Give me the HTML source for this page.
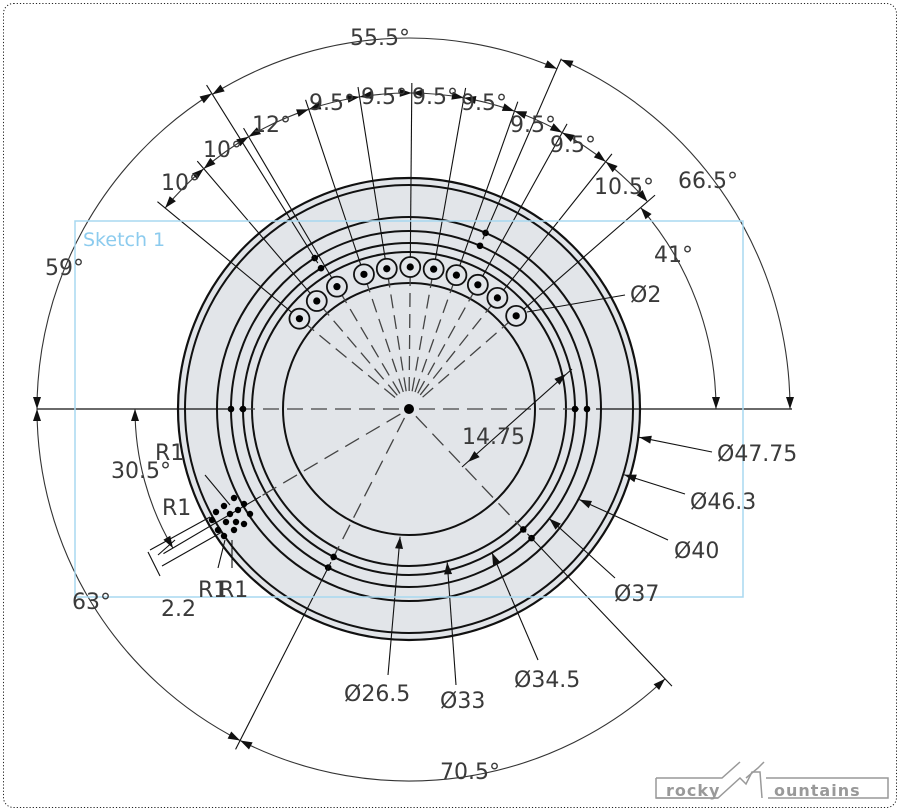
<!DOCTYPE html>
<html><head><meta charset="utf-8">
<style>
html,body{margin:0;padding:0;background:#fff;}
svg{display:block;}
text{font-family:"DejaVu Sans","Liberation Sans",sans-serif;fill:#3a3a3a;font-size:22px;}
</style></head>
<body>
<svg id="s" width="900" height="811" viewBox="0 0 900 811" xmlns="http://www.w3.org/2000/svg">
<rect x="3.5" y="3.5" width="893" height="804" rx="10" fill="none" stroke="#222" stroke-width="1" stroke-dasharray="1.2 2"/>
<circle cx="409" cy="409" r="231" fill="#e2e5e9"/>
<g id="g" stroke="#111" fill="none"></g>
<rect x="75" y="221" width="668" height="376" fill="none" stroke="#a8d8f0" stroke-width="1.5"/>
<text x="83" y="246" style="fill:#8ccbee;font-size:19px">Sketch 1</text>
<text x="350" y="45">55.5°</text>
<text x="678" y="188">66.5°</text>
<text x="654" y="262">41°</text>
<text x="45" y="275">59°</text>
<text x="72" y="609">63°</text>
<text x="440" y="779">70.5°</text>
<text x="111" y="478">30.5°</text>
<text x="155" y="460">R1</text>
<text x="162" y="515">R1</text>
<text x="198" y="597">R1</text>
<text x="219" y="597">R1</text>
<text x="161" y="616">2.2</text>
<text x="630" y="302">Ø2</text>
<text x="717" y="461">Ø47.75</text>
<text x="690" y="509">Ø46.3</text>
<text x="674" y="558">Ø40</text>
<text x="614" y="601">Ø37</text>
<text x="514" y="687">Ø34.5</text>
<text x="440" y="708">Ø33</text>
<text x="344" y="701">Ø26.5</text>
<text x="462" y="444">14.75</text>
<text x="594" y="194">10.5°</text>
<text x="550" y="152">9.5°</text>
<text x="510" y="132">9.5°</text>
<text x="461" y="110">9.5°</text>
<text x="412" y="104">9.5°</text>
<text x="361" y="104">9.5°</text>
<text x="309" y="110">9.5°</text>
<text x="252" y="132">12°</text>
<text x="203" y="157">10°</text>
<text x="161" y="190">10°</text>
<g transform="translate(656,762)">
<path d="M0 16 H66 L84 0 M90 16 L102 6 L108 0 M110 16 H232 V36 H116 L112 36 M-0 16 V36 H62" fill="none" stroke="#999" stroke-width="1.5"/>
<path d="M0 36 H62 L84 16 L90 22 L96 10 L104 10 L106 36" fill="none" stroke="#999" stroke-width="1.5"/>
<text x="10" y="34" style="fill:#999;font-size:16px;font-weight:bold;letter-spacing:1px">rocky</text>
<text x="118" y="34" style="fill:#999;font-size:16px;font-weight:bold;letter-spacing:1px">ountains</text>
</g>
</svg>
<script>
var g=document.getElementById('g'),NS='http://www.w3.org/2000/svg',C=409;
function el(t,a){var e=document.createElementNS(NS,t);for(var k in a)e.setAttribute(k,a[k]);g.appendChild(e);return e;}
function P(r,a){a*=Math.PI/180;return [C+r*Math.cos(a),C-r*Math.sin(a)];}
function line(p,q,w,dash){var o={x1:p[0],y1:p[1],x2:q[0],y2:q[1],'stroke-width':w||1.2};if(dash)o['stroke-dasharray']=dash;if(dash)o.stroke='#444';el('line',o);}
function tri(x,y,dx,dy){var L=12,W=4,bx=x-dx*L,by=y-dy*L;el('polygon',{points:x+','+y+' '+(bx-dy*W)+','+(by+dx*W)+' '+(bx+dy*W)+','+(by-dx*W),fill:'#111',stroke:'none'});}
function arc(r,a1,a2,arr){var p=P(r,a1),q=P(r,a2),lg=(a2-a1)>180?1:0;
 el('path',{d:'M'+p[0]+' '+p[1]+' A'+r+' '+r+' 0 '+lg+' 0 '+q[0]+' '+q[1],'stroke-width':1.1,stroke:'#333'});
 if(arr!==false){var b=a1*Math.PI/180,c=a2*Math.PI/180;tri(p[0],p[1],Math.sin(b),Math.cos(b));tri(q[0],q[1],-Math.sin(c),-Math.cos(c));}}
function dot(p,r){el('circle',{cx:p[0],cy:p[1],r:r||3.5,fill:'#000',stroke:'none'});}
[[231,2.2],[224,2],[192,2],[178,2],[166,2],[157,2],[126,2]].forEach(function(c){el('circle',{cx:C,cy:C,r:c[0],'stroke-width':c[1]});});
var H=[41,51.5,61,70.5,80,89.5,99,108.5,120.5,130.5,140.5];
H.forEach(function(a){
 line(P(18,a),P(132,a),1.3,'14 7');
 line(P(152,a),P(326,a),1.1);
 var p=P(142,a);el('circle',{cx:p[0],cy:p[1],r:10,'stroke-width':1.8,fill:'#e2e5e9'});dot(p,3.6);
});
for(var i=0;i<H.length-1;i++)arc(316,H[i],H[i+1]);
[0,180,210.5,243,313.5].forEach(function(a){line(P(10,a),P(a==0||a==180?176:170,a),1.3,'16 8');});
dot([C,C],5);
[[66.5,192],[66.5,178],[122,178],[122,166],[180,178],[180,166],[0,166],[0,178],[243,178],[243,166],[313.5,166],[313.5,178]].forEach(function(d){dot(P(d[1],d[0]),3.3);});
line(P(185,66.5),P(382,66.5),1.1);
line(P(172,122),P(382,122),1.1);
arc(371,66.5,122);
line([596,409],[792,409],1.2);
arc(381,0,66.5);
arc(307,0,41);
line([37,409],[231,409],1.2);
arc(372,122,180);
arc(274,180,210.5);
line(P(172,210.5),P(285,210.5),1.1);
arc(372,180,243);
line(P(172,243),P(382,243),1.1);
arc(372,243,313.5);
line(P(172,313.5),P(382,313.5),1.1);
line([462,467],[572,369],1.1);tri(566,374,0.75,-0.66);tri(468,462,-0.75,0.66);
function lead(a,r,tx,ty){var p=P(r,a);line([tx,ty],p,1.1);var dx=p[0]-tx,dy=p[1]-ty,l=Math.hypot(dx,dy);tri(p[0],p[1],dx/l,dy/l);}
lead(-7,232,712,452);lead(-17,225,685,494);lead(-28,193,668,540);lead(-38,178,615,578);
lead(-60,166,538,660);lead(-76,158,456,685);lead(-94,128,388,675);
line([527,312],[625,295],1.1);
var sp=[[216,512],[224,506],[234,498],[244,504],[250,514],[244,524],[234,530],[224,536],[218,530],[212,520],[230,514],[238,510],[226,522],[236,522]];
sp.forEach(function(p){dot(p,3.2);});
line([210,517],[150,550],1.1);line([222,532],[162,566],1.1);line([148,552],[160,576],1.1);
line([175,540],[158,555],1.1);
line([205,475],[230,505],1.1);line([225,540],[218,568],1.1);line([232,540],[232,568],1.1);
</script>
</body></html>
